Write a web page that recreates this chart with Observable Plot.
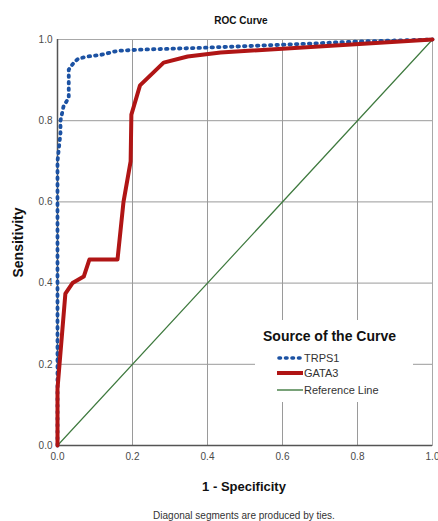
<!DOCTYPE html>
<html>
<head>
<meta charset="utf-8">
<script src="https://cdn.jsdelivr.net/npm/d3@7"></script>
<script src="https://cdn.jsdelivr.net/npm/@observablehq/plot@0.6"></script>
<style>
  body { margin: 0; background: #fff; }
  #wrap { position: relative; width: 438px; height: 521px; font-family: "Liberation Sans", Arial, sans-serif; }
  #legend { position: absolute; left: 255px; top: 320px; width: 158px; height: 82px; background: #fff; }
  #legend .ttl { position: absolute; left: 8px; top: 8px; font-size: 14px; font-weight: bold; color: #111; white-space: nowrap; }
  #legend .item { position: absolute; left: 22px; height: 14px; font-size: 11px; color: #333; display: flex; align-items: center; white-space: nowrap; }
  #legend svg { margin-right: 1px; }
</style>
</head>
<body>
<div id="wrap"></div>
<script>
// TRPS1 ROC curve (1 - specificity, sensitivity)
const trps1X = [0, 0, 0.008, 0.008, 0.016, 0.03, 0.03, 0.045, 0.056, 0.08, 0.115, 0.16, 0.22, 0.4, 0.6, 0.8, 1];
const trps1Y = [0, 0.70, 0.77, 0.80, 0.835, 0.857, 0.926, 0.945, 0.953, 0.958, 0.962, 0.972, 0.975, 0.98, 0.987, 0.995, 1];
// GATA3 ROC curve
const gata3X = [0, 0, 0.021, 0.04, 0.07, 0.085, 0.16, 0.176, 0.195, 0.197, 0.205, 0.22, 0.283, 0.347, 0.435, 1];
const gata3Y = [0, 0.14, 0.374, 0.40, 0.416, 0.458, 0.458, 0.60, 0.70, 0.815, 0.84, 0.887, 0.943, 0.958, 0.968, 1];
// Reference line
const refX = [0, 1];
const refY = [0, 1];
const ticks = [0, 0.2, 0.4, 0.6, 0.8, 1.0];
const seriesNames = ["TRPS1", "GATA3", "Reference Line"];
const colors = ["#1c52a3", "#b01515", "#3f7a3f"];

const toRows = (xs, ys) => xs.map((x, i) => ({x, y: ys[i]}));
const trps1 = toRows(trps1X, trps1Y);
const gata3 = toRows(gata3X, gata3Y);
const ref = toRows(refX, refY);

const fmt = d3.format(".1f");
const chart = Plot.plot({
  width: 438,
  height: 521,
  marginLeft: 57,
  marginRight: 6,
  marginTop: 39,
  marginBottom: 76,
  style: {fontFamily: "'Liberation Sans', Arial, sans-serif", fontSize: "10px", background: "#fff", overflow: "visible"},
  x: {domain: [0, 1]},
  y: {domain: [0, 1]},
  marks: [
    Plot.gridX(ticks, {stroke: "#9a9a9a", strokeOpacity: 1, strokeWidth: 1}),
    Plot.gridY(ticks, {stroke: "#9a9a9a", strokeOpacity: 1, strokeWidth: 1}),
    Plot.frame({stroke: "#a8a8a8"}),
    Plot.ruleX([0], {stroke: "#555", strokeWidth: 1.5}),
    Plot.ruleY([0], {stroke: "#555", strokeWidth: 1.5}),
    Plot.axisX(ticks, {tickSize: 0, tickPadding: 7, tickFormat: fmt, label: null, fill: "#4a4a4a", fontSize: 10}),
    Plot.axisY(ticks, {tickSize: 0, tickPadding: 5, tickFormat: fmt, label: null, fill: "#4a4a4a", fontSize: 10}),
    Plot.line(ref, {x: "x", y: "y", stroke: colors[2], strokeWidth: 1.2}),
    Plot.line(trps1, {x: "x", y: "y", stroke: colors[0], strokeWidth: 3.8, strokeDasharray: "1.5,5", strokeLinecap: "round", strokeLinejoin: "round"}),
    Plot.line(gata3, {x: "x", y: "y", stroke: colors[1], strokeWidth: 4, strokeLinejoin: "round"}),
    Plot.text(["ROC Curve"], {frameAnchor: "top", dy: -19, dx: -4, textAnchor: "middle", lineAnchor: "middle", fontSize: 10, fontWeight: "bold", fill: "#111"}),
    Plot.text(["Sensitivity"], {frameAnchor: "left", dx: -39, rotate: -90, textAnchor: "middle", lineAnchor: "middle", fontSize: 14, fontWeight: "bold", fill: "#111"}),
    Plot.text(["1 - Specificity"], {frameAnchor: "bottom", dy: 41, dx: -1, textAnchor: "middle", lineAnchor: "middle", fontSize: 13, fontWeight: "bold", fill: "#111"}),
    Plot.text(["Diagonal segments are produced by ties."], {frameAnchor: "bottom", dy: 70, dx: -1, textAnchor: "middle", lineAnchor: "middle", fontSize: 10, fill: "#333"})
  ]
});

const wrap = document.getElementById("wrap");
wrap.appendChild(chart);

// Legend
const leg = document.createElement("div");
leg.id = "legend";
leg.innerHTML = `<div class="ttl">Source of the Curve</div>`;
const swatch = [
  `<svg width="26" height="6"><line x1="2" y1="3" x2="24" y2="3" stroke="${colors[0]}" stroke-width="3.6" stroke-dasharray="1.5,5" stroke-linecap="round"/></svg>`,
  `<svg width="26" height="6"><line x1="0" y1="3" x2="26" y2="3" stroke="${colors[1]}" stroke-width="4"/></svg>`,
  `<svg width="26" height="6"><line x1="0" y1="3" x2="26" y2="3" stroke="${colors[2]}" stroke-width="1.4"/></svg>`
];
const tops = [31, 46, 63];
seriesNames.forEach((name, i) => {
  const it = document.createElement("div");
  it.className = "item";
  it.style.top = tops[i] + "px";
  it.innerHTML = swatch[i] + `<span>${name}</span>`;
  leg.appendChild(it);
});
wrap.appendChild(leg);
</script>
</body>
</html>
